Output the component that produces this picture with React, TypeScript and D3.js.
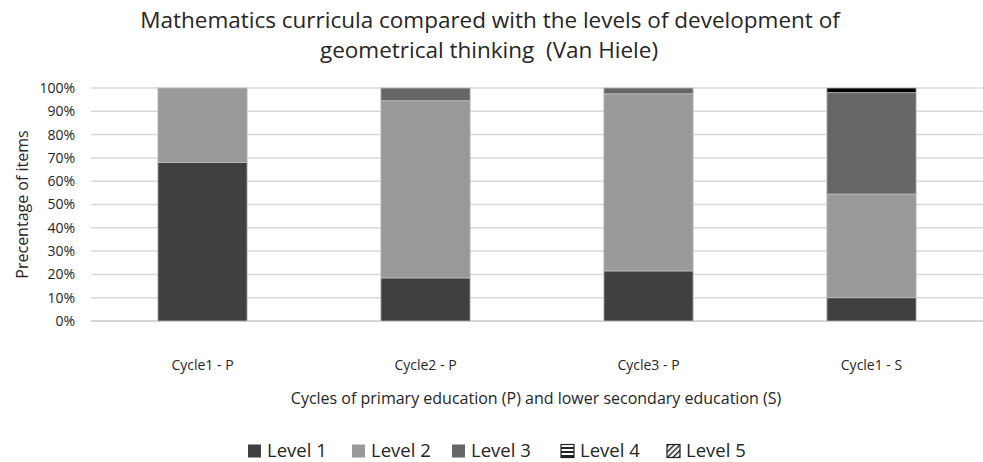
import React from "react";
import * as d3 from "d3";

// categories and stacked series (percent of items)
const cycles = ["Cycle1 - P", "Cycle2 - P", "Cycle3 - P", "Cycle1 - S"];
const levels = ["Level 1", "Level 2", "Level 3", "Level 4", "Level 5"];
const level1 = [68, 18.5, 21.5, 10];
const level2 = [32, 76, 76, 44.5];
const level3 = [0, 5.5, 2.5, 43.5];
const level4 = [0, 0, 0, 2];
const level5 = [0, 0, 0, 0];
const yTicks = [0, 10, 20, 30, 40, 50, 60, 70, 80, 90, 100];

const fills = ["#404040", "#999999", "#666666", "#000000", "url(#diag)"];
const legendFills = ["#404040", "#999999", "#666666", "url(#horiz)", "url(#diag)"];

export default function App() {
  const width = 983;
  const height = 462;
  const margin = { top: 88, right: 0, bottom: 141, left: 91 };

  const rows = cycles.map((c, i) => ({
    cycle: c,
    "Level 1": level1[i],
    "Level 2": level2[i],
    "Level 3": level3[i],
    "Level 4": level4[i],
    "Level 5": level5[i],
  }));
  const series = d3.stack<any>().keys(levels)(rows);

  const x = d3.scaleBand()
    .domain(cycles)
    .range([margin.left, width - margin.right])
    .paddingInner(0.6)
    .paddingOuter(0.3);
  const y = d3.scaleLinear()
    .domain([0, 100])
    .range([height - margin.bottom, margin.top]);

  const font = "Open Sans, sans-serif";
  const ink = "#262626";
  const legendX = [248, 352, 452, 561, 667];

  return (
    <svg width={width} height={height} style={{ position: "absolute", left: 0, top: 0, background: "#fff" }} fontFamily={font}>
      <defs>
        <pattern id="horiz" width="4" height="4" patternUnits="userSpaceOnUse">
          <rect width="4" height="4" fill="#fff" />
          <rect width="4" height="2" fill="#222" />
        </pattern>
        <pattern id="diag" width="4" height="4" patternUnits="userSpaceOnUse" patternTransform="rotate(45)">
          <rect width="4" height="4" fill="#fff" />
          <rect width="1.5" height="4" fill="#222" />
        </pattern>
      </defs>

      {/* title */}
      <text x={490} y={28} textAnchor="middle" fontSize={22.5} fill={ink}>
        Mathematics curricula compared with the levels of development of
      </text>
      <text x={489} y={58} textAnchor="middle" fontSize={22.5} fill={ink} style={{ whiteSpace: "pre" }}>
        geometrical thinking  (Van Hiele)
      </text>

      {/* gridlines + y ticks */}
      {yTicks.map(t => (
        <g key={t}>
          <line x1={margin.left} x2={width - margin.right} y1={y(t)} y2={y(t)}
            stroke={t === 0 ? "#c8c8c8" : "#d9d9d9"} strokeWidth={1.5} />
          <text x={75} y={y(t)} dy="0.35em" textAnchor="end" fontSize={14} fill={ink}>{t}%</text>
        </g>
      ))}

      {/* bars */}
      {series.map((s, si) => (
        <g key={s.key}>
          {s.map((d, i) => (d[1] - d[0] > 0 ? (
            <rect key={i}
              x={x(cycles[i])!}
              width={x.bandwidth()}
              y={y(d[1])}
              height={y(d[0]) - y(d[1])}
              fill={fills[si]}
              stroke="#bdbdbd"
              strokeWidth={0.8}
            />
          ) : null))}
        </g>
      ))}

      {/* x labels */}
      {cycles.map(c => (
        <text key={c} x={x(c)! + x.bandwidth() / 2} y={370} textAnchor="middle" fontSize={14} fill={ink}>{c}</text>
      ))}
      <text x={536} y={404} textAnchor="middle" fontSize={16} fill={ink}>
        Cycles of primary education (P) and lower secondary education (S)
      </text>
      <text transform={`translate(28,${(y(0) + y(100)) / 2}) rotate(-90)`} textAnchor="middle" fontSize={16} fill={ink}>
        Precentage of items
      </text>

      {/* legend */}
      {levels.map((l, i) => (
        <g key={l} transform={`translate(${legendX[i]},451)`}>
          <rect x={0} y={-6.5} width={13} height={13} fill={legendFills[i]} stroke={i >= 3 ? "#222" : "none"} strokeWidth={1.2} />
          <text x={19} y={0} dy="0.35em" fontSize={18.5} fill={ink}>{l}</text>
        </g>
      ))}
    </svg>
  );
}
